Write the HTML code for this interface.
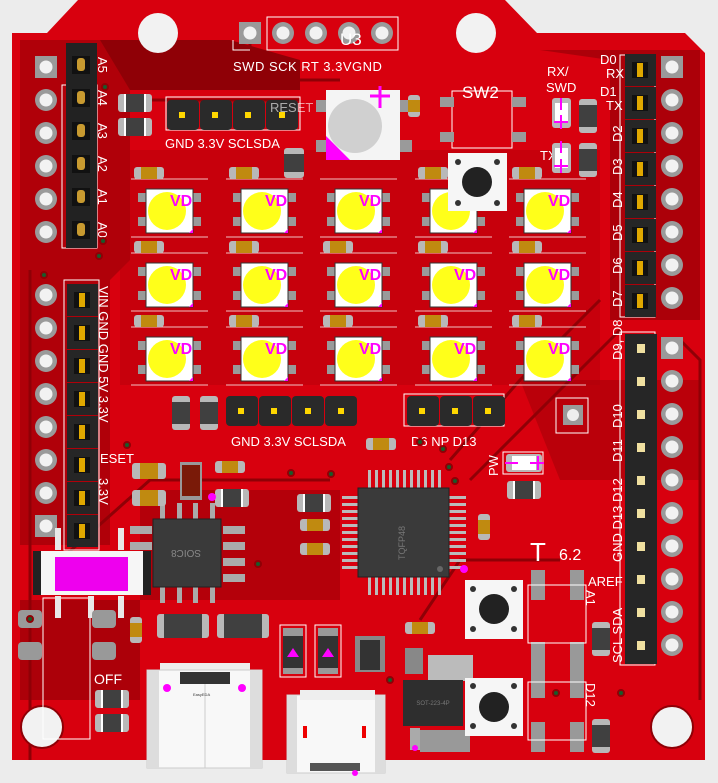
<!DOCTYPE html>
<html><head><meta charset="utf-8"><style>
html,body{margin:0;padding:0;background:#ececec;}
svg{display:block}
text{font-family:"Liberation Sans",sans-serif;}
</style></head><body>
<svg width="718" height="783" viewBox="0 0 718 783" xmlns="http://www.w3.org/2000/svg">
<defs>
<g id="led">
 <rect x="-8" y="4" width="10" height="9" fill="#9a9a9a"/><rect x="-8" y="28" width="10" height="9" fill="#9a9a9a"/>
 <rect x="45" y="4" width="10" height="9" fill="#9a9a9a"/><rect x="45" y="28" width="10" height="9" fill="#9a9a9a"/>
 <rect x="0" y="0" width="47" height="44" fill="#fff" stroke="#333" stroke-width="1"/>
 <circle cx="21" cy="22" r="19" fill="#ffff1a"/>
 <text x="24" y="17" font-size="16" font-weight="bold" fill="#ff00ff">VD</text>
 <path d="M43 44 L47 40 L47 44Z" fill="#ff00ff"/>
 <line x1="-15" y1="-10" x2="62" y2="-10" stroke="#fff" stroke-width="0.8"/>
 <line x1="-15" y1="48" x2="62" y2="48" stroke="#fff" stroke-width="0.8"/>
</g>
<g id="res">
 <rect x="0" y="0" width="30" height="12" rx="3" fill="#b8b8b8"/><rect x="7" y="0" width="16" height="12" fill="#c08a10"/>
</g>
<g id="cap">
 <rect x="0" y="0" width="34" height="18" rx="3" fill="#b8b8b8"/><rect x="6" y="0" width="2" height="18" fill="#fff"/><rect x="26" y="0" width="2" height="18" fill="#fff"/><rect x="8" y="0" width="18" height="18" fill="#404040"/>
</g>
<g id="rpin"><circle r="11" fill="#9a9a9a"/><circle r="6.5" fill="#f2f2f2"/></g>
<g id="spin"><rect x="-11" y="-11" width="22" height="22" fill="#9a9a9a"/><circle r="6.5" fill="#f2f2f2"/></g>
<g id="hpin"><rect x="-15" y="-16" width="31" height="32" fill="#262626"/><rect x="-8" y="-8" width="16" height="16" fill="#111"/><rect x="-3" y="-7" width="6" height="14" fill="#e0a800"/></g>
</defs>
<path d="M78 0 L505 0 L537 33 L685 33 L705 53 L705 760 L12 760 L12 33 L47 33 Z" fill="#d8000e"/>
<path d="M20 40 L100 40 L130 70 L130 260 L110 280 L110 545 L20 545 Z" fill="#8f0006" opacity="0.55"/>
<path d="M100 40 L230 40 L300 60 L300 90 L130 90 Z" fill="#8f0006"/>
<path d="M540 50 L700 50 L700 320 L610 320 L610 60 Z" fill="#8f0006" opacity="0.6"/>
<path d="M20 600 L140 600 L140 700 L20 700 Z" fill="#8f0006" opacity="0.6"/>
<path d="M140 490 L340 490 L340 600 L140 600 Z" fill="#8f0006" opacity="0.5"/>
<path d="M520 380 L700 380 L700 480 L560 480 Z" fill="#8f0006" opacity="0.4"/>
<path d="M120 150 L600 150 L600 385 L120 385 Z" fill="#b0000a" opacity="0.4"/>
<g stroke="#8f0006" stroke-width="3" fill="none">
<path d="M130 100 L300 100"/><path d="M620 330 L560 390 L470 480"/><path d="M600 300 L520 380 L450 460"/>
<path d="M30 270 L30 760"/><path d="M60 560 L150 480 L330 480"/><path d="M250 40 L250 80 L340 80"/>
<path d="M420 620 L460 560 L560 560"/><path d="M680 340 L700 360 L700 700"/>
</g>
<circle cx="158" cy="33" r="20" fill="#f2f2f2"/><circle cx="476" cy="33" r="20" fill="#f2f2f2"/>
<circle cx="42" cy="727" r="21" fill="#f2f2f2" stroke="#8f0006" stroke-width="2"/><circle cx="672" cy="727" r="21" fill="#f2f2f2" stroke="#8f0006" stroke-width="2"/>
<rect x="267" y="17" width="131" height="33" fill="none" stroke="#fff" stroke-width="1"/>
<path d="M233 40 L233 50 L250 50" stroke="#fff" fill="none"/>
<use href="#spin" x="250" y="33"/><use href="#rpin" x="283" y="33"/><use href="#rpin" x="316" y="33"/><use href="#rpin" x="349" y="33"/><use href="#rpin" x="382" y="33"/>
<text x="340" y="45" font-size="17" fill="#fff">U3</text>
<text x="233" y="71" font-size="13" fill="#fff" letter-spacing="0.5">SWD SCK  RT 3.3VGND</text>
<rect x="62" y="85" width="35" height="163" fill="none" stroke="#fff"/>
<use href="#spin" x="46" y="67"/>
<g><use href="#rpin" x="46" y="100"/><use href="#rpin" x="46" y="133"/><use href="#rpin" x="46" y="166"/><use href="#rpin" x="46" y="199"/><use href="#rpin" x="46" y="232"/></g>
<rect x="66" y="43" width="31" height="205" fill="#222"/>
<g fill="#111"><rect x="72" y="56" width="18" height="18"/><rect x="72" y="89" width="18" height="18"/><rect x="72" y="122" width="18" height="18"/><rect x="72" y="155" width="18" height="18"/><rect x="72" y="188" width="18" height="18"/><rect x="72" y="221" width="18" height="18"/></g>
<g fill="#c89a30"><rect x="77" y="58" width="8" height="13" rx="3"/><rect x="77" y="91" width="8" height="13" rx="3"/><rect x="77" y="124" width="8" height="13" rx="3"/><rect x="77" y="157" width="8" height="13" rx="3"/><rect x="77" y="190" width="8" height="13" rx="3"/><rect x="77" y="223" width="8" height="13" rx="3"/></g>
<g font-size="13" fill="#fff">
<text transform="translate(98,57) rotate(90)">A5</text><text transform="translate(98,90) rotate(90)">A4</text><text transform="translate(98,123) rotate(90)">A3</text><text transform="translate(98,156) rotate(90)">A2</text><text transform="translate(98,189) rotate(90)">A1</text><text transform="translate(98,222) rotate(90)">A0</text>
</g>
<rect x="64" y="280" width="35" height="270" fill="none" stroke="#fff"/>
<g><use href="#rpin" x="46" y="295"/><use href="#rpin" x="46" y="328"/><use href="#rpin" x="46" y="361"/><use href="#rpin" x="46" y="394"/><use href="#rpin" x="46" y="427"/><use href="#rpin" x="46" y="460"/><use href="#rpin" x="46" y="493"/><use href="#spin" x="46" y="526"/></g>
<g><use href="#hpin" x="82" y="300"/><use href="#hpin" x="82" y="333"/><use href="#hpin" x="82" y="366"/><use href="#hpin" x="82" y="399"/><use href="#hpin" x="82" y="432"/><use href="#hpin" x="82" y="465"/><use href="#hpin" x="82" y="498"/><use href="#hpin" x="82" y="531"/></g>
<g font-size="13" fill="#fff">
<text transform="translate(99,286) rotate(90)">VIN GND GND  5V  3.3V</text>
<text x="100" y="463">ESET</text>
<text transform="translate(99,478) rotate(90)">3.3V</text>
</g>
<rect x="620" y="55" width="35" height="262" fill="none" stroke="#fff"/>
<use href="#spin" x="672" y="67"/>
<g><use href="#rpin" x="672" y="100"/><use href="#rpin" x="672" y="133"/><use href="#rpin" x="672" y="166"/><use href="#rpin" x="672" y="199"/><use href="#rpin" x="672" y="232"/><use href="#rpin" x="672" y="265"/><use href="#rpin" x="672" y="298"/></g>
<g><use href="#hpin" x="640" y="70"/><use href="#hpin" x="640" y="103"/><use href="#hpin" x="640" y="136"/><use href="#hpin" x="640" y="169"/><use href="#hpin" x="640" y="202"/><use href="#hpin" x="640" y="235"/><use href="#hpin" x="640" y="268"/><use href="#hpin" x="640" y="301"/></g>
<g font-size="13" fill="#fff">
<text x="600" y="64">D0</text><text x="606" y="78">RX</text><text x="600" y="96">D1</text><text x="606" y="110">TX</text>
<text transform="translate(622,142) rotate(-90)">D2</text><text transform="translate(622,175) rotate(-90)">D3</text><text transform="translate(622,208) rotate(-90)">D4</text><text transform="translate(622,241) rotate(-90)">D5</text><text transform="translate(622,274) rotate(-90)">D6</text><text transform="translate(622,307) rotate(-90)">D7</text>
</g>
<rect x="620" y="332" width="35" height="333" fill="none" stroke="#fff"/>
<g><use href="#spin" x="672" y="348"/><use href="#rpin" x="672" y="381"/><use href="#rpin" x="672" y="414"/><use href="#rpin" x="672" y="447"/><use href="#rpin" x="672" y="480"/><use href="#rpin" x="672" y="513"/><use href="#rpin" x="672" y="546"/><use href="#rpin" x="672" y="579"/><use href="#rpin" x="672" y="612"/><use href="#rpin" x="672" y="645"/></g>
<rect x="625" y="334" width="32" height="330" fill="#262626"/>
<g fill="#f0e0a0"><rect x="637" y="344" width="8" height="9"/><rect x="637" y="377" width="8" height="9"/><rect x="637" y="410" width="8" height="9"/><rect x="637" y="443" width="8" height="9"/><rect x="637" y="476" width="8" height="9"/><rect x="637" y="509" width="8" height="9"/><rect x="637" y="542" width="8" height="9"/><rect x="637" y="575" width="8" height="9"/><rect x="637" y="608" width="8" height="9"/><rect x="637" y="641" width="8" height="9"/></g>
<g font-size="13" fill="#fff">
<text transform="translate(622,360) rotate(-90)">D9, D8</text>
<text transform="translate(622,428) rotate(-90)">D10</text><text transform="translate(622,462) rotate(-90)">D11</text>
<text transform="translate(622,562) rotate(-90)">GND D13 D12</text>
<text x="588" y="586">AREF</text>
<text transform="translate(622,663) rotate(-90)">SCL SDA</text>
<text transform="translate(586,590) rotate(90)">A1</text>
<text transform="translate(586,683) rotate(90)">D12</text>
</g>
<rect x="166" y="97" width="134" height="33" fill="none" stroke="#fff"/>
<g fill="#2a2a2a"><rect x="167" y="100" width="32" height="30" rx="4"/><rect x="200" y="100" width="32" height="30" rx="4"/><rect x="233" y="100" width="32" height="30" rx="4"/><rect x="266" y="100" width="32" height="30" rx="4"/></g>
<g fill="#ffd700"><rect x="179" y="112" width="6" height="6"/><rect x="212" y="112" width="6" height="6"/><rect x="245" y="112" width="6" height="6"/><rect x="279" y="112" width="6" height="6"/></g>
<text x="165" y="148" font-size="13" fill="#fff">GND  3.3V SCLSDA</text>
<text x="270" y="112" font-size="13" fill="#fff" opacity="0.6">RESET</text>
<use href="#cap" x="118" y="94"/><use href="#cap" x="118" y="118"/>
<rect x="316" y="100" width="12" height="12" fill="#9a9a9a"/><rect x="316" y="140" width="12" height="12" fill="#9a9a9a"/><rect x="400" y="100" width="12" height="12" fill="#9a9a9a"/><rect x="400" y="140" width="12" height="12" fill="#9a9a9a"/>
<rect x="326" y="90" width="74" height="70" fill="#f4f4f4"/>
<circle cx="355" cy="126" r="27" fill="#d0d0d0"/>
<path d="M326 136 L350 160 L326 160Z" fill="#ff00ff"/>
<path d="M370 96 L390 96 M380 86 L380 108" stroke="#ff00ff" stroke-width="3"/>
<rect x="408" y="95" width="12" height="22" rx="3" fill="#b8b8b8"/><rect x="408" y="100" width="12" height="12" fill="#c08a10"/>
<rect x="284" y="148" width="20" height="30" rx="3" fill="#b8b8b8"/><rect x="284" y="154" width="20" height="18" fill="#404040"/>
<rect x="452" y="91" width="60" height="57" fill="none" stroke="#fff"/>
<text x="462" y="98" font-size="17" fill="#fff">SW2</text>
<rect x="440" y="97" width="14" height="10" fill="#9a9a9a"/><rect x="512" y="97" width="14" height="10" fill="#9a9a9a"/><rect x="440" y="132" width="14" height="10" fill="#9a9a9a"/><rect x="512" y="132" width="14" height="10" fill="#9a9a9a"/>
<text x="547" y="76" font-size="13" fill="#fff">RX/</text><text x="546" y="92" font-size="13" fill="#fff">SWD</text>
<text x="540" y="160" font-size="13" fill="#fff">TX</text>
<rect x="552" y="98" width="19" height="30" rx="3" fill="#b8b8b8"/><rect x="555" y="103" width="13" height="20" fill="#fff"/>
<rect x="552" y="143" width="19" height="30" rx="3" fill="#b8b8b8"/><rect x="555" y="148" width="13" height="20" fill="#fff"/>
<path d="M561 98 L561 110 M554 122 L568 122 M561 115 L561 129 M561 141 L561 153 M554 166 L568 166 M561 159 L561 173" stroke="#ff00ff" stroke-width="2"/>
<rect x="579" y="99" width="18" height="34" rx="3" fill="#b8b8b8"/><rect x="579" y="105" width="18" height="22" fill="#404040"/>
<rect x="579" y="143" width="18" height="34" rx="3" fill="#b8b8b8"/><rect x="579" y="149" width="18" height="22" fill="#404040"/>
<g>
<use href="#led" x="146" y="189"/><use href="#led" x="241" y="189"/><use href="#led" x="335" y="189"/><use href="#led" x="430" y="189"/><use href="#led" x="524" y="189"/>
<use href="#led" x="146" y="263"/><use href="#led" x="241" y="263"/><use href="#led" x="335" y="263"/><use href="#led" x="430" y="263"/><use href="#led" x="524" y="263"/>
<use href="#led" x="146" y="337"/><use href="#led" x="241" y="337"/><use href="#led" x="335" y="337"/><use href="#led" x="430" y="337"/><use href="#led" x="524" y="337"/>
</g>
<rect x="448" y="153" width="59" height="58" fill="#f6f6f6"/>
<circle cx="477" cy="182" r="15" fill="#222"/>
<g fill="#333"><circle cx="458" cy="162" r="3"/><circle cx="497" cy="162" r="3"/><circle cx="458" cy="203" r="3"/><circle cx="497" cy="203" r="3"/></g>
<g>
<use href="#res" x="134" y="167"/><use href="#res" x="229" y="167"/><use href="#res" x="418" y="167"/><use href="#res" x="512" y="167"/>
<use href="#res" x="134" y="241"/><use href="#res" x="229" y="241"/><use href="#res" x="323" y="241"/><use href="#res" x="418" y="241"/><use href="#res" x="512" y="241"/>
<use href="#res" x="134" y="315"/><use href="#res" x="229" y="315"/><use href="#res" x="323" y="315"/><use href="#res" x="418" y="315"/><use href="#res" x="512" y="315"/>
</g>
<rect x="172" y="396" width="18" height="34" rx="3" fill="#b8b8b8"/><rect x="172" y="402" width="18" height="22" fill="#404040"/>
<rect x="200" y="396" width="18" height="34" rx="3" fill="#b8b8b8"/><rect x="200" y="402" width="18" height="22" fill="#404040"/>
<g fill="#2a2a2a"><rect x="226" y="396" width="32" height="30" rx="4"/><rect x="259" y="396" width="32" height="30" rx="4"/><rect x="292" y="396" width="32" height="30" rx="4"/><rect x="325" y="396" width="32" height="30" rx="4"/></g>
<g fill="#ffd700"><rect x="238" y="408" width="6" height="6"/><rect x="271" y="408" width="6" height="6"/><rect x="305" y="408" width="6" height="6"/><rect x="338" y="408" width="6" height="6"/></g>
<text x="231" y="446" font-size="13" fill="#fff">GND 3.3V SCLSDA</text>
<use href="#res" x="366" y="438"/>
<rect x="404" y="394" width="100" height="32" fill="none" stroke="#fff"/>
<g fill="#2a2a2a"><rect x="407" y="396" width="32" height="30" rx="4"/><rect x="440" y="396" width="32" height="30" rx="4"/><rect x="473" y="396" width="32" height="30" rx="4"/></g>
<g fill="#ffd700"><rect x="419" y="408" width="6" height="6"/><rect x="452" y="408" width="6" height="6"/><rect x="485" y="408" width="6" height="6"/></g>
<text x="411" y="446" font-size="13" fill="#fff">D6  NP  D13</text>
<rect x="556" y="398" width="32" height="35" fill="none" stroke="#fff"/>
<rect x="563" y="405" width="20" height="20" fill="#9a9a9a"/><circle cx="573" cy="415" r="6" fill="#eee"/>
<text transform="translate(498,476) rotate(-90)" font-size="13" fill="#fff">PW</text>
<rect x="503" y="452" width="40" height="22" fill="none" stroke="#fff"/>
<rect x="506" y="454" width="36" height="18" rx="3" fill="#b8b8b8"/><rect x="512" y="456" width="24" height="14" fill="#fff"/>
<path d="M505 463 L518 463 M530 463 L544 463 M538 456 L538 470" stroke="#ff00ff" stroke-width="2"/>
<use href="#cap" x="507" y="481"/>
<g fill="#bbb">
<rect x="368" y="470" width="3" height="18"/><rect x="375" y="470" width="3" height="18"/><rect x="382" y="470" width="3" height="18"/><rect x="389" y="470" width="3" height="18"/><rect x="396" y="470" width="3" height="18"/><rect x="403" y="470" width="3" height="18"/><rect x="410" y="470" width="3" height="18"/><rect x="417" y="470" width="3" height="18"/><rect x="424" y="470" width="3" height="18"/><rect x="431" y="470" width="3" height="18"/><rect x="438" y="470" width="3" height="18"/>
<rect x="368" y="577" width="3" height="18"/><rect x="375" y="577" width="3" height="18"/><rect x="382" y="577" width="3" height="18"/><rect x="389" y="577" width="3" height="18"/><rect x="396" y="577" width="3" height="18"/><rect x="403" y="577" width="3" height="18"/><rect x="410" y="577" width="3" height="18"/><rect x="417" y="577" width="3" height="18"/><rect x="424" y="577" width="3" height="18"/><rect x="431" y="577" width="3" height="18"/><rect x="438" y="577" width="3" height="18"/>
<rect x="448" y="496" width="18" height="3"/><rect x="448" y="503" width="18" height="3"/><rect x="448" y="510" width="18" height="3"/><rect x="448" y="517" width="18" height="3"/><rect x="448" y="524" width="18" height="3"/><rect x="448" y="531" width="18" height="3"/><rect x="448" y="538" width="18" height="3"/><rect x="448" y="545" width="18" height="3"/><rect x="448" y="552" width="18" height="3"/><rect x="448" y="559" width="18" height="3"/><rect x="448" y="566" width="18" height="3"/>
<rect x="342" y="496" width="18" height="3"/><rect x="342" y="503" width="18" height="3"/><rect x="342" y="510" width="18" height="3"/><rect x="342" y="517" width="18" height="3"/><rect x="342" y="524" width="18" height="3"/><rect x="342" y="531" width="18" height="3"/><rect x="342" y="538" width="18" height="3"/><rect x="342" y="545" width="18" height="3"/><rect x="342" y="552" width="18" height="3"/><rect x="342" y="559" width="18" height="3"/><rect x="342" y="566" width="18" height="3"/>
</g>
<rect x="358" y="488" width="91" height="89" fill="#3a3a3a" stroke="#222"/>
<text transform="translate(405,560) rotate(-90)" font-size="9" fill="#777">TQFP48</text>
<circle cx="440" cy="569" r="3" fill="#666"/><circle cx="464" cy="569" r="4" fill="#ff00ff"/>
<use href="#cap" x="297" y="494"/><use href="#res" x="300" y="519"/><use href="#res" x="300" y="543"/>
<rect x="478" y="514" width="12" height="26" rx="3" fill="#b8b8b8"/><rect x="478" y="520" width="12" height="14" fill="#c08a10"/>
<text x="530" y="561" font-size="26" font-family="Liberation Serif,serif" fill="#fff">T</text>
<text x="559" y="560" font-size="16" fill="#fff">6.2</text>
<g fill="#aaa"><rect x="160" y="503" width="5" height="16"/><rect x="177" y="503" width="5" height="16"/><rect x="193" y="503" width="5" height="16"/><rect x="210" y="503" width="5" height="16"/>
<rect x="160" y="587" width="5" height="16"/><rect x="177" y="587" width="5" height="16"/><rect x="193" y="587" width="5" height="16"/><rect x="210" y="587" width="5" height="16"/>
<rect x="130" y="526" width="22" height="8"/><rect x="130" y="542" width="22" height="8"/><rect x="223" y="526" width="22" height="8"/><rect x="223" y="542" width="22" height="8"/><rect x="223" y="558" width="22" height="8"/><rect x="223" y="574" width="22" height="8"/></g>
<rect x="153" y="519" width="68" height="68" fill="#3a3a3a" stroke="#222"/>
<text x="186" y="558" font-size="10" fill="#888" text-anchor="middle" transform="rotate(180 186 554)">SOIC8</text>
<rect x="180" y="462" width="22" height="38" fill="#999"/><rect x="182" y="465" width="18" height="31" fill="#7a1a08"/>
<rect x="132" y="463" width="34" height="16" rx="3" fill="#b8b8b8"/><rect x="140" y="463" width="18" height="16" fill="#c08a10"/><rect x="132" y="490" width="34" height="16" rx="3" fill="#b8b8b8"/><rect x="140" y="490" width="18" height="16" fill="#c08a10"/>
<use href="#res" x="215" y="461"/><use href="#cap" x="215" y="489"/>
<circle cx="212" cy="497" r="4" fill="#ff00ff"/>
<rect x="43" y="598" width="47" height="141" fill="none" stroke="#fff"/>
<g fill="#e8e8e8"><rect x="55" y="528" width="6" height="22"/><rect x="118" y="528" width="6" height="22"/><rect x="55" y="596" width="6" height="22"/><rect x="88" y="596" width="6" height="22"/><rect x="118" y="596" width="6" height="22"/></g>
<rect x="33" y="551" width="118" height="44" fill="#f6f6f6"/>
<rect x="33" y="551" width="8" height="44" fill="#222"/><rect x="143" y="551" width="8" height="44" fill="#222"/>
<rect x="55" y="557" width="73" height="34" fill="#ee00ee"/>
<g fill="#999"><rect x="18" y="610" width="24" height="18" rx="4"/><rect x="18" y="642" width="24" height="18" rx="4"/><rect x="92" y="610" width="24" height="18" rx="4"/><rect x="92" y="642" width="24" height="18" rx="4"/></g>
<text x="94" y="684" font-size="14" fill="#fff">OFF</text>
<use href="#cap" x="95" y="690"/><use href="#cap" x="95" y="714"/>
<rect x="130" y="617" width="12" height="26" rx="3" fill="#b8b8b8"/><rect x="130" y="623" width="12" height="14" fill="#c08a10"/>
<rect x="157" y="614" width="52" height="24" rx="3" fill="#b8b8b8"/><rect x="164" y="614" width="38" height="24" fill="#404040"/>
<rect x="217" y="614" width="52" height="24" rx="3" fill="#b8b8b8"/><rect x="224" y="614" width="38" height="24" fill="#404040"/>
<rect x="280" y="625" width="26" height="52" fill="none" stroke="#fff"/><rect x="315" y="625" width="26" height="52" fill="none" stroke="#fff"/>
<rect x="283" y="628" width="20" height="46" fill="#999"/><rect x="318" y="628" width="20" height="46" fill="#999"/>
<rect x="283" y="636" width="20" height="32" fill="#333"/><rect x="318" y="636" width="20" height="32" fill="#333"/>
<path d="M287 657 L293 648 L299 657Z M322 657 L328 648 L334 657Z" fill="#ff00ff"/>
<rect x="355" y="636" width="30" height="36" fill="#888"/><rect x="360" y="640" width="20" height="30" fill="#333"/>
<use href="#res" x="405" y="622"/>
<rect x="405" y="648" width="18" height="26" fill="#888"/><rect x="428" y="655" width="45" height="26" fill="#bbb"/>
<rect x="403" y="680" width="60" height="46" fill="#2e2e2e"/>
<text x="433" y="705" font-size="6" fill="#777" text-anchor="middle">SOT-223-4P</text>
<rect x="410" y="728" width="10" height="22" fill="#aaa"/><rect x="420" y="730" width="50" height="22" fill="#999"/>
<circle cx="415" cy="748" r="3" fill="#ff00ff"/>
<rect x="465" y="580" width="58" height="59" fill="#f6f6f6"/><circle cx="494" cy="609" r="15" fill="#222"/>
<g fill="#333"><circle cx="473" cy="589" r="3"/><circle cx="514" cy="589" r="3"/><circle cx="473" cy="629" r="3"/><circle cx="514" cy="629" r="3"/></g>
<rect x="465" y="678" width="58" height="58" fill="#f6f6f6"/><circle cx="494" cy="707" r="15" fill="#222"/>
<g fill="#333"><circle cx="473" cy="686" r="3"/><circle cx="514" cy="686" r="3"/><circle cx="473" cy="726" r="3"/><circle cx="514" cy="726" r="3"/></g>
<g fill="#999"><rect x="531" y="570" width="14" height="30"/><rect x="570" y="570" width="14" height="30"/><rect x="531" y="642" width="14" height="30"/><rect x="570" y="642" width="14" height="30"/><rect x="531" y="668" width="14" height="30"/><rect x="570" y="668" width="14" height="30"/><rect x="531" y="722" width="14" height="30"/><rect x="570" y="722" width="14" height="30"/></g>
<rect x="528" y="585" width="58" height="58" fill="none" stroke="#fff"/><rect x="528" y="682" width="58" height="58" fill="none" stroke="#fff"/>
<rect x="592" y="622" width="18" height="34" rx="3" fill="#b8b8b8"/><rect x="592" y="628" width="18" height="22" fill="#404040"/>
<rect x="592" y="719" width="18" height="34" rx="3" fill="#b8b8b8"/><rect x="592" y="725" width="18" height="22" fill="#404040"/>
<rect x="160" y="663" width="90" height="8" fill="#eee"/>
<rect x="147" y="670" width="115" height="98" fill="#f8f8f8" stroke="#ccc"/>
<rect x="147" y="670" width="12" height="98" fill="#ddd"/><rect x="250" y="670" width="12" height="98" fill="#ddd"/>
<rect x="180" y="672" width="50" height="12" fill="#333"/>
<line x1="205" y1="684" x2="205" y2="768" stroke="#ccc"/>
<circle cx="167" cy="688" r="4" fill="#ff00ff"/><circle cx="242" cy="688" r="4" fill="#ff00ff"/>
<text x="193" y="696" font-size="4" fill="#333">EasyEDA</text>
<rect x="287" y="695" width="98" height="78" fill="#f8f8f8" stroke="#ccc"/>
<rect x="287" y="695" width="10" height="78" fill="#ddd"/><rect x="375" y="695" width="10" height="78" fill="#ddd"/>
<rect x="300" y="690" width="75" height="10" fill="#eee"/>
<rect x="303" y="726" width="4" height="12" fill="#e00"/><rect x="362" y="726" width="4" height="12" fill="#e00"/>
<rect x="310" y="763" width="50" height="8" fill="#555"/><circle cx="355" cy="773" r="3" fill="#ff00ff"/>
<g fill="#1a5a2a" stroke="#8f0006" stroke-width="2">
<circle cx="105" cy="87" r="3"/><circle cx="103" cy="241" r="3"/><circle cx="99" cy="256" r="3"/><circle cx="44" cy="275" r="3"/><circle cx="127" cy="445" r="3"/><circle cx="291" cy="473" r="3"/><circle cx="331" cy="474" r="3"/><circle cx="258" cy="564" r="3"/><circle cx="420" cy="442" r="3"/><circle cx="443" cy="449" r="3"/><circle cx="449" cy="467" r="3"/><circle cx="455" cy="481" r="3"/><circle cx="621" cy="693" r="3"/><circle cx="556" cy="693" r="3"/><circle cx="30" cy="619" r="3"/><circle cx="390" cy="680" r="3"/>
</g>
</svg>
</body></html>
